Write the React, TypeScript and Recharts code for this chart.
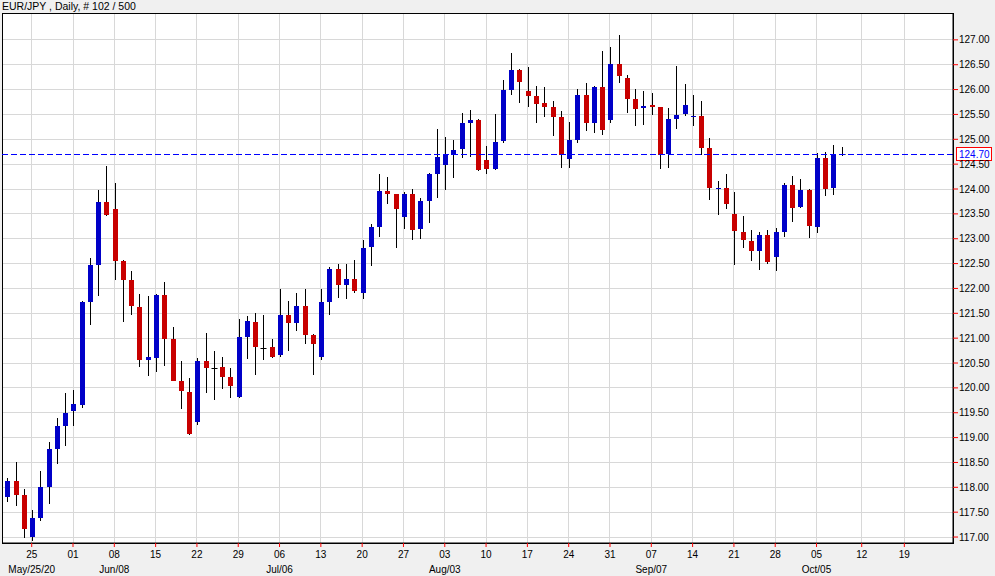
import React from 'react';
import {
  ComposedChart,
  Bar,
  XAxis,
  YAxis,
  CartesianGrid,
  ReferenceLine,
  ReferenceArea,
} from 'recharts';

// EUR/JPY daily candles, 20 May - 08 Oct 2020
const DATES = [
  '05-20', '05-21', '05-22',
  '05-25', '05-26', '05-27', '05-28', '05-29',
  '06-01', '06-02', '06-03', '06-04', '06-05',
  '06-08', '06-09', '06-10', '06-11', '06-12',
  '06-15', '06-16', '06-17', '06-18', '06-19',
  '06-22', '06-23', '06-24', '06-25', '06-26',
  '06-29', '06-30', '07-01', '07-02', '07-03',
  '07-06', '07-07', '07-08', '07-09', '07-10',
  '07-13', '07-14', '07-15', '07-16', '07-17',
  '07-20', '07-21', '07-22', '07-23', '07-24',
  '07-27', '07-28', '07-29', '07-30', '07-31',
  '08-03', '08-04', '08-05', '08-06', '08-07',
  '08-10', '08-11', '08-12', '08-13', '08-14',
  '08-17', '08-18', '08-19', '08-20', '08-21',
  '08-24', '08-25', '08-26', '08-27', '08-28',
  '08-31', '09-01', '09-02', '09-03', '09-04',
  '09-07', '09-08', '09-09', '09-10', '09-11',
  '09-14', '09-15', '09-16', '09-17', '09-18',
  '09-21', '09-22', '09-23', '09-24', '09-25',
  '09-28', '09-29', '09-30', '10-01', '10-02',
  '10-05', '10-06', '10-07', '10-08',
];

const OPENS = [
  117.81, 118.13, 117.85, 116.99, 117.38, 118.01, 118.77, 119.23, 119.54, 119.66,
  121.73, 122.48, 123.74, 123.60, 122.56, 122.17, 121.63, 120.56, 120.61, 121.87,
  120.99, 120.14, 119.92, 119.32, 120.54, 120.40, 120.41, 120.21, 119.82, 121.02,
  121.32, 120.80, 120.82, 120.65, 121.46, 121.30, 121.64, 121.06, 120.61, 121.72,
  122.39, 122.05, 122.18, 121.91, 122.82, 123.24, 123.96, 123.90, 123.43, 123.90,
  123.18, 123.76, 124.29, 124.49, 124.68, 124.80, 125.32, 125.38, 124.59, 124.40,
  124.96, 126.00, 126.40, 125.98, 125.88, 125.72, 125.64, 125.44, 124.60, 125.00,
  125.90, 125.34, 126.06, 125.40, 126.52, 126.24, 125.82, 125.62, 125.68, 125.64,
  124.69, 125.41, 125.50, 125.44, 125.46, 124.82, 124.01, 124.03, 123.49, 123.14,
  122.96, 122.75, 123.08, 122.64, 123.15, 124.09, 123.63, 123.97, 123.25, 124.63,
  124.01, 124.70,
];

const HIGHS = [
  118.19, 118.51, 117.97, 117.54, 118.33, 118.91, 119.40, 119.90, 119.96, 121.75,
  122.62, 123.99, 124.46, 124.13, 122.58, 122.36, 121.89, 121.84, 121.88, 122.13,
  121.23, 120.54, 120.20, 120.60, 121.11, 120.74, 120.62, 120.40, 121.38, 121.44,
  121.50, 121.46, 120.98, 121.98, 121.74, 121.90, 121.98, 121.08, 121.98, 122.43,
  122.50, 122.49, 122.57, 122.97, 123.29, 124.30, 124.24, 123.90, 123.94, 124.00,
  123.82, 124.32, 125.20, 125.04, 124.99, 125.52, 125.58, 125.40, 124.87, 125.50,
  126.19, 126.74, 126.41, 126.46, 126.08, 126.06, 125.78, 125.56, 125.34, 126.02,
  126.14, 126.08, 126.77, 126.85, 127.09, 126.30, 126.02, 125.98, 125.94, 125.65,
  125.63, 126.47, 126.12, 125.90, 125.76, 125.02, 124.17, 124.31, 123.93, 123.45,
  123.18, 123.14, 123.17, 123.21, 124.13, 124.27, 124.21, 124.01, 124.73, 124.75,
  124.89, 124.85,
];

const LOWS = [
  117.71, 117.63, 116.99, 116.93, 117.33, 117.66, 118.46, 118.84, 119.23, 119.60,
  121.26, 121.84, 123.46, 122.16, 121.32, 121.46, 120.41, 120.23, 120.31, 120.44,
  120.13, 119.58, 119.05, 119.26, 119.89, 119.75, 119.97, 119.80, 119.80, 120.58,
  120.25, 120.56, 120.60, 120.63, 120.75, 121.14, 120.88, 120.25, 120.57, 121.46,
  121.80, 121.79, 121.91, 121.78, 122.45, 123.04, 123.70, 122.82, 123.19, 122.97,
  123.00, 123.32, 123.82, 123.98, 124.23, 124.62, 124.64, 124.36, 124.30, 124.38,
  124.92, 125.90, 125.72, 125.64, 125.32, 125.44, 125.06, 124.42, 124.42, 124.92,
  125.17, 125.12, 125.08, 125.32, 126.13, 125.52, 125.26, 125.28, 125.48, 124.40,
  124.43, 125.21, 125.46, 125.27, 124.69, 123.78, 123.48, 123.60, 122.48, 122.82,
  122.55, 122.37, 122.50, 122.36, 123.03, 123.33, 123.61, 123.01, 123.11, 123.85,
  123.87, 124.66,
];

const CLOSES = [
  118.13, 117.85, 117.16, 117.38, 118.01, 118.77, 119.23, 119.50, 119.68, 121.73,
  122.48, 123.74, 123.48, 122.56, 122.18, 121.64, 120.56, 120.62, 121.87, 120.99,
  120.15, 119.93, 119.08, 120.54, 120.39, 120.40, 120.21, 120.02, 121.02, 121.34,
  120.82, 120.80, 120.62, 121.46, 121.30, 121.64, 121.06, 120.88, 121.72, 122.39,
  122.06, 122.18, 121.93, 122.81, 123.23, 123.96, 123.90, 123.59, 123.90, 123.18,
  123.75, 124.30, 124.64, 124.69, 124.79, 125.32, 125.38, 124.38, 124.40, 124.95,
  125.99, 126.40, 126.15, 125.88, 125.72, 125.64, 125.44, 124.68, 124.99, 125.90,
  125.34, 126.06, 125.20, 126.52, 126.27, 125.81, 125.62, 125.66, 125.64, 124.68,
  125.40, 125.49, 125.68, 125.46, 124.82, 124.02, 124.03, 123.71, 123.15, 122.97,
  122.75, 123.08, 122.54, 123.14, 124.09, 123.63, 123.97, 123.25, 124.63, 124.01,
  124.70, 124.70,
];

// week ticks (bar index), the last two fall in the empty future area
const TICK_POS = [3, 8, 13, 18, 23, 28, 33, 38, 43, 48, 53, 58, 63, 68, 73, 78, 83, 88, 93, 98, 103.47, 108.63];
const DAY_LABELS = ['25', '01', '08', '15', '22', '29', '06', '13', '20', '27', '03', '10', '17', '24', '31', '07', '14', '21', '28', '05', '12', '19'];
const MONTH_LABELS = ['May/25/20', '', 'Jun/08', '', '', '', 'Jul/06', '', '', '', 'Aug/03', '', '', '', '', 'Sep/07', '', '', '', 'Oct/05', '', ''];
const PRICE_TICKS = [117, 117.5, 118, 118.5, 119, 119.5, 120, 120.5, 121, 121.5, 122, 122.5, 123, 123.5, 124, 124.5, 125, 125.5, 126, 126.5, 127];
const LAST_PRICE = 124.7;

const X_DOMAIN: [number, number] = [-0.596, 114.52];
const Y_DOMAIN: [number, number] = [116.88, 127.54];

const UP = '#0000C8';
const DOWN = '#C80000';
const FONT = '"Liberation Sans", Arial, sans-serif';

const candles = DATES.map((date, i) => ({
  i,
  date,
  open: OPENS[i],
  high: HIGHS[i],
  low: LOWS[i],
  close: CLOSES[i],
  range: [LOWS[i], HIGHS[i]],
}));

function Candle(props: any) {
  const { x, y, width, height, payload } = props;
  if (!payload) return null;
  const { open, high, low, close } = payload;
  const top = Math.min(y, y + height);
  const h = Math.abs(height);
  const k = high > low ? h / (high - low) : 0;
  const py = (v: number) => top + (high - v) * k;
  const cx = Math.round(x + width / 2) + 0.5;
  const yo = py(open);
  const yc = py(close);

  let body;
  if (open === close) {
    const yy = Math.round(yo) + 0.5;
    body = <line x1={cx - 3} x2={cx + 3} y1={yy} y2={yy} stroke="#000" strokeWidth={1} />;
  } else {
    const bt = Math.round(Math.min(yo, yc));
    const bh = Math.max(1, Math.round(Math.abs(yo - yc)));
    body = <rect x={cx - 2.5} y={bt} width={5} height={bh} fill={close > open ? UP : DOWN} />;
  }
  return (
    <g>
      <line x1={cx} x2={cx} y1={Math.round(py(high))} y2={Math.round(py(low))} stroke="#000" strokeWidth={1} />
      {body}
    </g>
  );
}

function DateTick(props: any) {
  const { x, y, payload } = props;
  const idx = TICK_POS.indexOf(payload.value);
  if (idx < 0) return null;
  return (
    <g>
      <text x={x} y={y + 9} textAnchor="middle" fontSize={10} fontFamily={FONT} fill="#000">
        {DAY_LABELS[idx]}
      </text>
      {MONTH_LABELS[idx] && (
        <text x={x} y={y + 24} textAnchor="middle" fontSize={10} fontFamily={FONT} fill="#000">
          {MONTH_LABELS[idx]}
        </text>
      )}
    </g>
  );
}

function PriceTag(props: any) {
  const vb = props.viewBox;
  if (!vb) return null;
  const left = vb.x + vb.width + 3;
  const yy = vb.y;
  return (
    <g>
      <rect x={left + 0.5} y={Math.round(yy) - 6.5} width={35} height={13} fill="#fff" stroke="#FF0000" strokeWidth={1} />
      <text x={left + 3} y={yy + 4} fontSize={10} fontFamily={FONT} fill="#0000FF">
        {LAST_PRICE.toFixed(2)}
      </text>
    </g>
  );
}

export default function App() {
  return (
    <div style={{ position: 'fixed', left: 0, top: 0, width: 995, height: 576, background: '#F0F0F0', overflow: 'hidden' }}>
      <div
        style={{
          position: 'absolute',
          left: 2,
          top: 0,
          fontFamily: FONT,
          fontSize: 10.5,
          lineHeight: '12px',
          color: '#000',
          whiteSpace: 'pre',
        }}
      >
        EUR/JPY , Daily, # 102 / 500
      </div>
      <ComposedChart width={995} height={576} data={candles} margin={{ top: 13, right: 0, bottom: 0, left: 2 }}>
        <CartesianGrid stroke="#D8D8D8" fill="#FFFFFF" shapeRendering="crispEdges" />
        <XAxis
          dataKey="i"
          type="number"
          domain={X_DOMAIN}
          allowDataOverflow
          ticks={TICK_POS}
          interval={0}
          height={33}
          tickSize={4}
          tickMargin={2}
          tickLine={{ stroke: '#FF0000' }}
          axisLine={{ stroke: '#000' }}
          tick={(p: any) => <DateTick {...p} />}
        />
        <YAxis
          orientation="right"
          type="number"
          domain={Y_DOMAIN}
          allowDataOverflow
          ticks={PRICE_TICKS}
          interval={0}
          width={42}
          tickSize={5}
          tickMargin={1}
          tickLine={{ stroke: '#FF0000' }}
          axisLine={{ stroke: '#000' }}
          tick={{ fill: '#000', fontSize: 10, fontFamily: FONT }}
          tickFormatter={(v: number) => v.toFixed(2)}
        />
        <Bar dataKey="range" barSize={5} shape={<Candle />} isAnimationActive={false} />
        <ReferenceLine
          y={LAST_PRICE}
          stroke="#0000FF"
          strokeDasharray="6 3"
          shapeRendering="crispEdges"
          label={<PriceTag />}
        />
        <ReferenceArea
          x1={X_DOMAIN[0]}
          x2={X_DOMAIN[1]}
          y1={Y_DOMAIN[0]}
          y2={Y_DOMAIN[1]}
          fill="none"
          fillOpacity={0}
          stroke="#000"
          strokeWidth={1}
          shapeRendering="crispEdges"
        />
      </ComposedChart>
    </div>
  );
}
